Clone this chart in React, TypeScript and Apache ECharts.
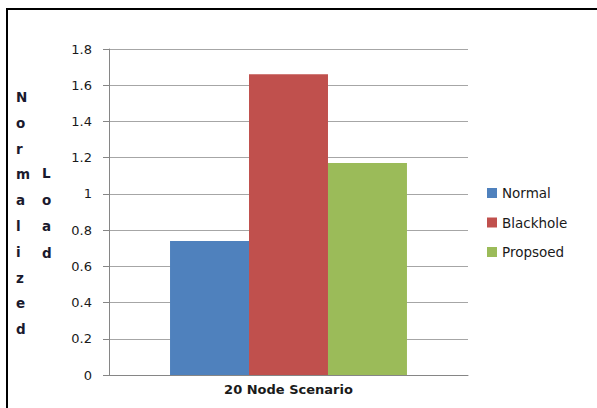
import React, { useEffect, useRef } from "react";
import * as echarts from "echarts";

const categories = ["20 Node Scenario"];
const seriesNames = ["Normal", "Blackhole", "Propsoed"];
const normalValues = [0.74];
const blackholeValues = [1.66];
const proposedValues = [1.17];
const yTickMax = 1.8;
const yTickInterval = 0.2;
const yTitleLine1 = "Normalized";
const yTitleLine2 = "Load";

const colors = ["#4f81bd", "#c0504d", "#9bbb59"];
const FONT = "'DejaVu Sans', 'Noto Sans', sans-serif";

export default function App() {
  const ref = useRef<HTMLDivElement>(null);
  useEffect(() => {
    if (!ref.current) return;
    const chart = echarts.init(ref.current, undefined, { renderer: "svg" });
    const seriesData = [normalValues, blackholeValues, proposedValues];
    chart.setOption({
      animation: false,
      backgroundColor: "#ffffff",
      grid: { left: 109, right: 129, top: 49, bottom: 33 },
      legend: {
        orient: "vertical",
        left: 487,
        top: 186,
        padding: 0,
        itemWidth: 10,
        itemHeight: 10,
        itemGap: 15.5,
        icon: "rect",
        data: seriesNames,
        textStyle: { fontFamily: FONT, fontSize: 13.5, color: "#1a1a1a", lineHeight: 14 },
      },
      xAxis: {
        type: "category",
        data: categories,
        axisLine: { show: true, lineStyle: { color: "#868686", width: 1 } },
        axisTick: { show: false },
        axisLabel: {
          fontFamily: FONT,
          fontWeight: "bold",
          fontSize: 13,
          color: "#1a1a1a",
          margin: 8,
        },
      },
      yAxis: {
        type: "value",
        min: 0,
        max: yTickMax,
        interval: yTickInterval,
        axisLine: { show: true, lineStyle: { color: "#868686", width: 1 } },
        axisTick: { show: true, length: 6, lineStyle: { color: "#868686" } },
        splitLine: { show: true, lineStyle: { color: "#a6a6a6", width: 1 } },
        axisLabel: {
          fontFamily: FONT,
          fontSize: 13,
          color: "#1a1a1a",
          margin: 17,
          formatter: (v: number) => String(Math.round(v * 10) / 10),
        },
      },
      series: seriesNames.map((name, i) => ({
        name,
        type: "bar",
        data: seriesData[i],
        itemStyle: { color: colors[i] },
        barGap: "0%",
        barCategoryGap: "34%",
      })),
      graphic: [
        {
          type: "line",
          shape: { x1: 6, y1: 9, x2: 597, y2: 9 },
          style: { stroke: "#000", lineWidth: 2 },
        },
        {
          type: "line",
          shape: { x1: 7, y1: 8, x2: 7, y2: 408 },
          style: { stroke: "#000", lineWidth: 2 },
        },
        {
          type: "text",
          left: 16,
          top: 84,
          style: {
            text: yTitleLine1.split("").join("\n"),
            fontFamily: FONT,
            fontWeight: "bold",
            fontSize: 13.5,
            lineHeight: 25.8,
            fill: "#1a1a2e",
            align: "center",
          },
        },
        {
          type: "text",
          left: 42,
          top: 160,
          style: {
            text: yTitleLine2.split("").join("\n"),
            fontFamily: FONT,
            fontWeight: "bold",
            fontSize: 13.5,
            lineHeight: 26.5,
            fill: "#1a1a2e",
            align: "center",
          },
        },
      ],
    });
    return () => chart.dispose();
  }, []);
  return (
    <div
      ref={ref}
      style={{ position: "absolute", left: 0, top: 0, width: 597, height: 408 }}
    />
  );
}
